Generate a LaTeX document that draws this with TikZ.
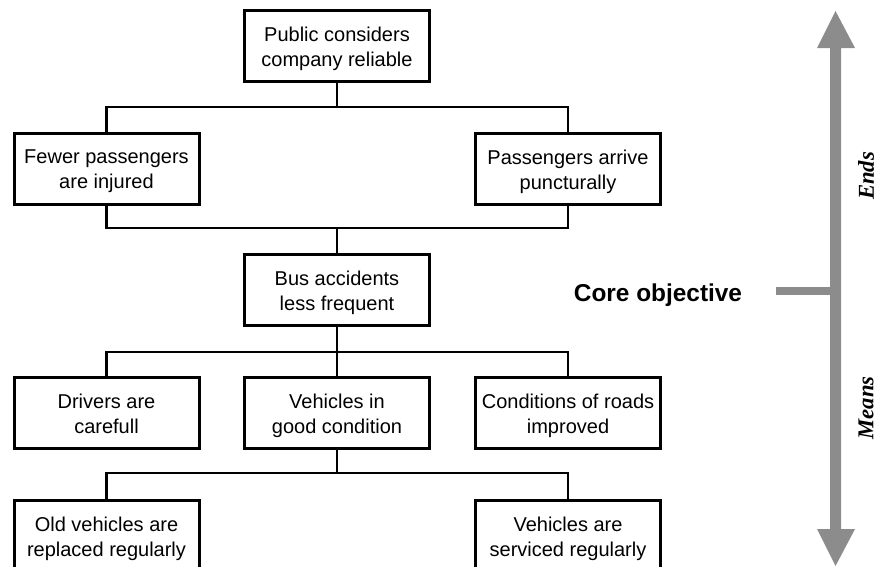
\documentclass[tikz,border=0pt]{standalone}
\usepackage{fontspec}
\setmainfont{Liberation Sans}
\newfontfamily\timesbi{Liberation Serif}
\definecolor{axisgrey}{HTML}{8C8C8C}
\begin{document}
\begin{tikzpicture}[x=1pt,y=-1pt,
  goal/.style={draw, line width=3pt, minimum width=185pt, minimum height=71pt,
    inner sep=0pt},
  goaltext/.style={inner sep=0pt, align=center, font=\fontsize{20}{25}\selectfont,
    execute at begin node={\strut}, execute at end node={\strut}},
  link/.style={line width=2.4pt},
  axislabel/.style={rotate=90, inner sep=0pt, font=\timesbi\fontsize{22.7}{26}\selectfont\bfseries\itshape}]
\useasboundingbox (0,0) rectangle (877,566);
\begin{scope}
\clip (0,0) rectangle (877,566);
% objective tree: boxes
\node[goal] (top) at (337,46) {};
\node[goal] (fewer) at (106.5,168.5) {};
\node[goal] (punct) at (568,168.5) {};
\node[goal] (bus) at (337,290) {};
\node[goal] (drivers) at (106.5,412.5) {};
\node[goal] (vehicles) at (337,412.5) {};
\node[goal] (roads) at (568,412.5) {};
\node[goal] (old) at (106.5,535.5) {};
\node[goal] (serviced) at (568,535.5) {};

% box captions, set slightly below the box centres
\node[goaltext] (top-t) at ([yshift=-4.5pt]top.center) {Public considers\\company reliable};
\node[goaltext] (fewer-t) at ([yshift=-4.5pt]fewer.center) {Fewer passengers\\are injured};
\node[goaltext] (punct-t) at ([yshift=-4.5pt]punct.center) {Passengers arrive\\puncturally};
\node[goaltext] (bus-t) at ([yshift=-4.5pt]bus.center) {Bus accidents\\less frequent};
\node[goaltext] (drivers-t) at ([yshift=-4.5pt]drivers.center) {Drivers are\\carefull};
\node[goaltext] (vehicles-t) at ([yshift=-4.5pt]vehicles.center) {Vehicles in\\good condition};
\node[goaltext] (roads-t) at ([yshift=-4.5pt]roads.center) {Conditions of roads\\improved};
\node[goaltext] (old-t) at ([yshift=-4.5pt]old.center) {Old vehicles are\\replaced regularly};
\node[goaltext] (serviced-t) at ([yshift=-4.5pt]serviced.center) {Vehicles are\\serviced regularly};

% junction points of the connectors
\coordinate (j1) at (337,107);
\coordinate (j2) at (337,228);
\coordinate (j3) at (337,352);
\coordinate (j4) at (337,473);

\draw[link] (top.south) -- (j1);
\draw[link] (fewer.north) |- (j1) -| (punct.north);
\draw[link] (fewer.south) |- (j2) -| (punct.south);
\draw[link] (j2) -- (bus.north);
\draw[link] (bus.south) -- (j3);
\draw[link] (drivers.north) |- (j3) -| (roads.north);
\draw[link] (j3) -- (vehicles.north);
\draw[link] (vehicles.south) -- (j4);
\draw[link] (old.north) |- (j4) -| (serviced.north);

% ends/means axis
\fill[axisgrey] (835.5,11) -- (855,48) -- (841,48) -- (841,529) -- (855,529)
  -- (835.5,566) -- (817,529) -- (830,529) -- (830,48) -- (817,48) -- cycle;
\fill[axisgrey] (776,287) rectangle (831,295);
\node[anchor=base, inner sep=0pt, font=\fontsize{24.4}{28}\selectfont\bfseries] (core) at (658,301) {Core objective};
\node[axislabel] (ends) at (866,176) {Ends};
\node[axislabel] (means) at (866,408) {Means};
\end{scope}
\end{tikzpicture}
\end{document}
